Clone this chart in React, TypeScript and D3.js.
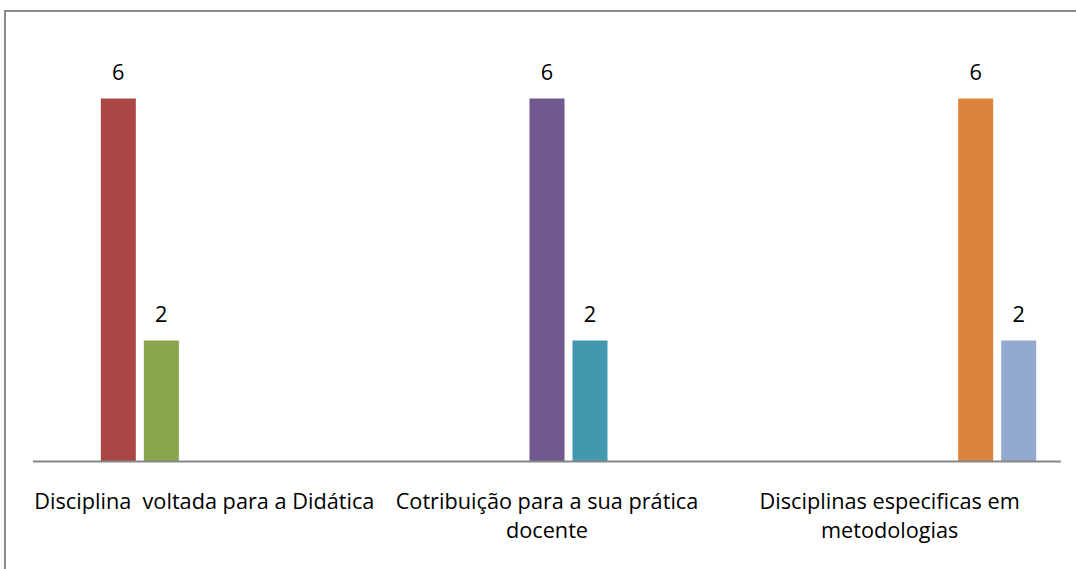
import React from "react";
import * as d3 from "d3";

const categories = [
  "Disciplina  voltada para a Didática",
  "Cotribuição para a sua prática docente",
  "Disciplinas especificas em metodologias",
];
const categoryLines = [
  ["Disciplina  voltada para a Didática"],
  ["Cotribuição para a sua prática", "docente"],
  ["Disciplinas especificas em", "metodologias"],
];
const seriesNames = ["S1", "S2", "S3", "S4", "S5", "S6", "S7"];
const seriesColors = ["#4572A7", "#AA4643", "#89A54E", "#71588F", "#4198AF", "#DB843D", "#93A9CF"];
const seriesValues: (number | null)[][] = [
  [null, null, null],
  [6, null, null],
  [2, null, null],
  [null, 6, null],
  [null, 2, null],
  [null, null, 6],
  [null, null, 2],
];
const yMax = 7;

const W = 1076;
const H = 569;
const FONT = "'Open Sans', Lato, sans-serif";
const FS = 21.7;

export default function App() {
  const left = 33;
  const right = 1061;
  const baseY = 461.5;
  const topY = 38;
  const x0 = d3.scaleBand<string>().domain(categories).range([left, right]).padding(0);
  const x1 = d3
    .scaleBand<string>()
    .domain(seriesNames)
    .range([0, x0.bandwidth()])
    .paddingInner(0.186)
    .paddingOuter(0.577);
  const y = d3.scaleLinear().domain([0, yMax]).range([baseY, topY]);

  return (
    <svg
      width={W}
      height={H}
      style={{ position: "fixed", left: 0, top: 0, display: "block", background: "#fff" }}
      fontFamily={FONT}
    >
      <rect x={5} y={11} width={W + 10} height={H + 10} fill="#fff" stroke="#8c8c8c" strokeWidth={2} />
      {seriesValues.map((vals, si) =>
        vals.map((v, ci) => {
          if (v === null) return null;
          const bx = (x0(categories[ci]) ?? 0) + (x1(seriesNames[si]) ?? 0);
          const bw = x1.bandwidth();
          return (
            <g key={`${si}-${ci}`}>
              <rect x={bx} y={y(v)} width={bw} height={baseY - y(v)} fill={seriesColors[si]} />
              <text
                x={bx + bw / 2}
                y={y(v) - 18.5}
                textAnchor="middle"
                fontSize={FS}
                fill="#000"
              >
                {v}
              </text>
            </g>
          );
        })
      )}
      <line x1={left} x2={right} y1={baseY} y2={baseY} stroke="#868686" strokeWidth={2} />
      {categories.map((c, ci) => {
        const cx = (x0(c) ?? 0) + x0.bandwidth() / 2;
        return (
          <text key={c} x={cx} textAnchor="middle" fontSize={FS} fill="#000" style={{ whiteSpace: "pre" }}>
            {categoryLines[ci].map((line, li) => (
              <tspan key={li} x={cx} y={509 + li * 29}>
                {line}
              </tspan>
            ))}
          </text>
        );
      })}
    </svg>
  );
}
